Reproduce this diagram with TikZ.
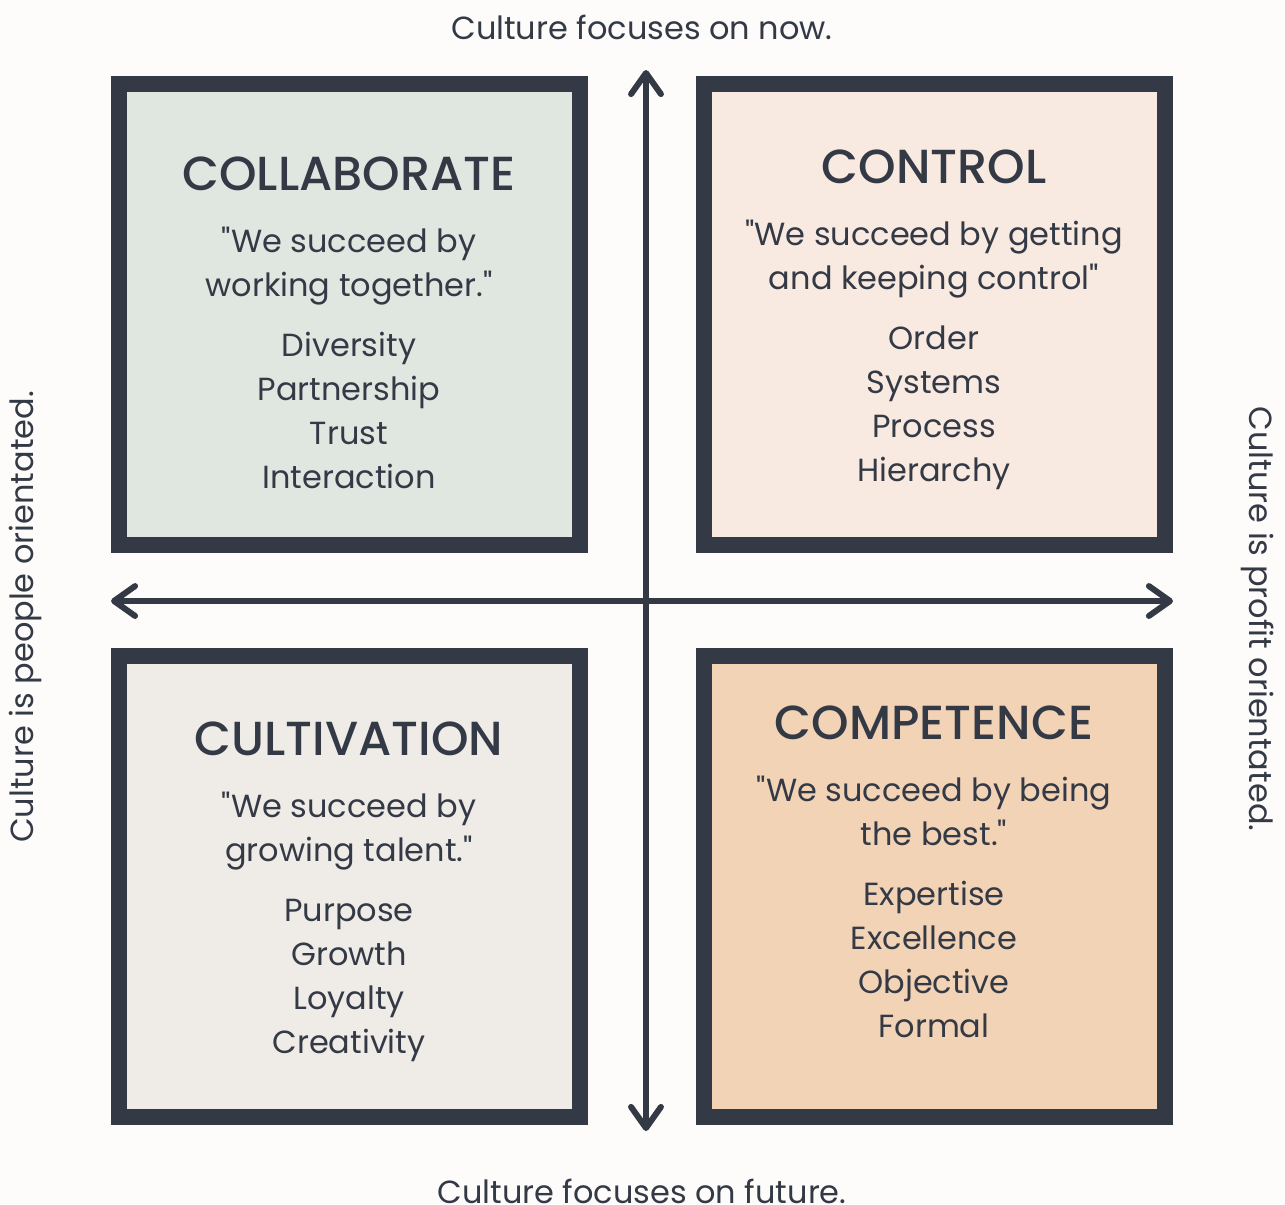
\documentclass[tikz,border=0pt]{standalone}
\usepackage{fontspec}
\setmainfont{Poppins}
\newfontfamily\headfont{Poppins Medium}
\usetikzlibrary{arrows.meta}
\definecolor{ink}{HTML}{343A45}
\definecolor{paper}{HTML}{FDFCFB}
\definecolor{sage}{HTML}{E0E7E0}
\definecolor{blush}{HTML}{F8E9E1}
\definecolor{linen}{HTML}{EFECE8}
\definecolor{peach}{HTML}{F3D3B6}

\begin{document}
\begin{tikzpicture}[x=0.02cm,y=-0.02cm,
  every node/.style={text=ink,inner sep=0pt,font=\fontsize{18.2}{24.9}\selectfont},
  panel/.style={draw=ink,line width=0.32cm,minimum size=9.22cm},
  heading/.style={anchor=base,font=\headfont\fontsize{27.2}{30}\selectfont},
  lines/.style={anchor=base,align=center},
  axis/.style={draw=ink,line width=0.12cm,
    {Straight Barb[length=12pt,width=17pt,round]}-{Straight Barb[length=12pt,width=17pt,round]}}]
  \fill[paper] (0,0) rectangle (1285,1204);
  \useasboundingbox (0,0) rectangle (1285,1204);

  % quadrants
  \node[panel,fill=sage]  (collab) at (349.5,314.5) {};
  \node[panel,fill=blush] (control) at (934.5,314.5) {};
  \node[panel,fill=linen] (cultiv) at (349.5,886.5) {};
  \node[panel,fill=peach] (compet) at (934.5,886.5) {};

  % axes
  \coordinate (top) at (646,70);
  \coordinate (bottom) at (646,1131);
  \coordinate (left) at (111,601);
  \coordinate (right) at (1173,601);
  \draw[axis] (bottom) -- (top);
  \draw[axis] (left) -- (right);

  % axis labels
  \node (now) at (642,27) {Culture focuses on now.};
  \node (future) at (642,1191) {Culture focuses on future.};
  \node[rotate=90] (people) at (25,617) {Culture is people orientated.};
  \node[rotate=-90] (profit) at (1258,619) {Culture is profit orientated.};

  % top left (base = last line)
  \node[heading] (collabT) at (349,190) {COLLABORATE};
  \node[lines] (collabQ) at (349,296) {\textquotedbl We succeed by\\working together.\textquotedbl};
  \node[lines] (collabL) at (349,488) {Diversity\\Partnership\\Trust\\Interaction};

  % top right
  \node[heading] (controlT) at (934,183) {CONTROL};
  \node[lines] (controlQ) at (934,289) {\textquotedbl We succeed by getting\\and keeping control\textquotedbl};
  \node[lines] (controlL) at (934,481) {Order\\Systems\\Process\\Hierarchy};

  % bottom left
  \node[heading] (cultivT) at (349,755) {CULTIVATION};
  \node[lines] (cultivQ) at (349,861) {\textquotedbl We succeed by\\growing talent.\textquotedbl};
  \node[lines] (cultivL) at (349,1053) {Purpose\\Growth\\Loyalty\\Creativity};

  % bottom right
  \node[heading] (competT) at (934,739) {COMPETENCE};
  \node[lines] (competQ) at (934,845) {\textquotedbl We succeed by being\\the best.\textquotedbl};
  \node[lines] (competL) at (934,1037) {Expertise\\Excellence\\Objective\\Formal};
\end{tikzpicture}
\end{document}
